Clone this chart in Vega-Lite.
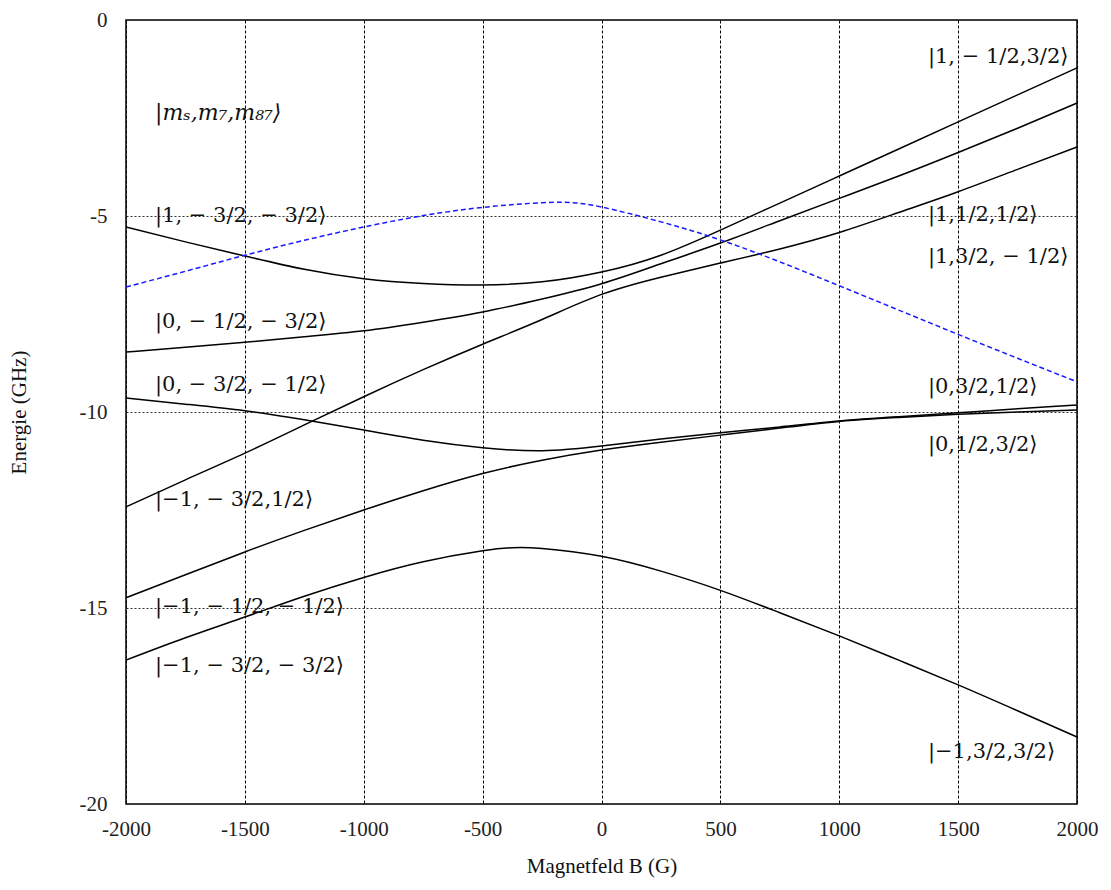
{
  "$schema": "https://vega.github.io/schema/vega-lite/v6.json",
  "width": 951,
  "height": 784,
  "autosize": {"type": "none"},
  "padding": {"left": 126, "top": 20, "right": 34, "bottom": 86},
  "background": "white",
  "config": {
    "view": {"stroke": "black", "strokeWidth": 1.5},
    "font": "Liberation Serif",
    "axis": {
      "domain": false,
      "ticks": false,
      "grid": true,
      "gridColor": "black",
      "gridWidth": 1,
      "labelFont": "Liberation Serif",
      "labelFontSize": 21,
      "labelColor": "#222",
      "labelFlush": false,
      "titleFont": "Liberation Serif",
      "titleFontSize": 21,
      "titleFontWeight": "normal",
      "titleColor": "#111",
      "labelExpr": "'' + datum.value"
    }
  },
  "datasets": {
    "levels": [
      {"level": "A", "B": -2000, "E": -5.28}, {"level": "A", "B": -1750, "E": -5.66}, {"level": "A", "B": -1500, "E": -6.02}, {"level": "A", "B": -1250, "E": -6.36}, {"level": "A", "B": -1000, "E": -6.6}, {"level": "A", "B": -750, "E": -6.72}, {"level": "A", "B": -500, "E": -6.76}, {"level": "A", "B": -250, "E": -6.68}, {"level": "A", "B": 0, "E": -6.43}, {"level": "A", "B": 250, "E": -6.0}, {"level": "A", "B": 500, "E": -5.36}, {"level": "A", "B": 750, "E": -4.67}, {"level": "A", "B": 1000, "E": -3.98}, {"level": "A", "B": 1250, "E": -3.29}, {"level": "A", "B": 1500, "E": -2.6}, {"level": "A", "B": 1750, "E": -1.91}, {"level": "A", "B": 2000, "E": -1.22},
      {"level": "B", "B": -2000, "E": -8.47}, {"level": "B", "B": -1750, "E": -8.35}, {"level": "B", "B": -1500, "E": -8.22}, {"level": "B", "B": -1250, "E": -8.08}, {"level": "B", "B": -1000, "E": -7.93}, {"level": "B", "B": -750, "E": -7.71}, {"level": "B", "B": -500, "E": -7.45}, {"level": "B", "B": -250, "E": -7.12}, {"level": "B", "B": 0, "E": -6.73}, {"level": "B", "B": 250, "E": -6.22}, {"level": "B", "B": 500, "E": -5.69}, {"level": "B", "B": 750, "E": -5.12}, {"level": "B", "B": 1000, "E": -4.55}, {"level": "B", "B": 1250, "E": -3.98}, {"level": "B", "B": 1500, "E": -3.38}, {"level": "B", "B": 1750, "E": -2.76}, {"level": "B", "B": 2000, "E": -2.12},
      {"level": "C", "B": -2000, "E": -12.42}, {"level": "C", "B": -1750, "E": -11.73}, {"level": "C", "B": -1500, "E": -11.05}, {"level": "C", "B": -1250, "E": -10.33}, {"level": "C", "B": -1000, "E": -9.61}, {"level": "C", "B": -750, "E": -8.92}, {"level": "C", "B": -500, "E": -8.27}, {"level": "C", "B": -250, "E": -7.64}, {"level": "C", "B": 0, "E": -7.0}, {"level": "C", "B": 250, "E": -6.56}, {"level": "C", "B": 500, "E": -6.2}, {"level": "C", "B": 750, "E": -5.84}, {"level": "C", "B": 1000, "E": -5.42}, {"level": "C", "B": 1250, "E": -4.91}, {"level": "C", "B": 1500, "E": -4.38}, {"level": "C", "B": 1750, "E": -3.81}, {"level": "C", "B": 2000, "E": -3.24},
      {"level": "D", "B": -2000, "E": -9.64}, {"level": "D", "B": -1750, "E": -9.8}, {"level": "D", "B": -1500, "E": -9.97}, {"level": "D", "B": -1250, "E": -10.2}, {"level": "D", "B": -1000, "E": -10.46}, {"level": "D", "B": -750, "E": -10.72}, {"level": "D", "B": -500, "E": -10.91}, {"level": "D", "B": -250, "E": -10.99}, {"level": "D", "B": 0, "E": -10.87}, {"level": "D", "B": 250, "E": -10.69}, {"level": "D", "B": 500, "E": -10.53}, {"level": "D", "B": 750, "E": -10.38}, {"level": "D", "B": 1000, "E": -10.23}, {"level": "D", "B": 1250, "E": -10.12}, {"level": "D", "B": 1500, "E": -10.02}, {"level": "D", "B": 1750, "E": -9.92}, {"level": "D", "B": 2000, "E": -9.82},
      {"level": "E", "B": -2000, "E": -14.74}, {"level": "E", "B": -1750, "E": -14.15}, {"level": "E", "B": -1500, "E": -13.57}, {"level": "E", "B": -1250, "E": -13.02}, {"level": "E", "B": -1000, "E": -12.5}, {"level": "E", "B": -750, "E": -12.01}, {"level": "E", "B": -500, "E": -11.57}, {"level": "E", "B": -250, "E": -11.23}, {"level": "E", "B": 0, "E": -10.97}, {"level": "E", "B": 250, "E": -10.77}, {"level": "E", "B": 500, "E": -10.59}, {"level": "E", "B": 750, "E": -10.41}, {"level": "E", "B": 1000, "E": -10.24}, {"level": "E", "B": 1250, "E": -10.14}, {"level": "E", "B": 1500, "E": -10.06}, {"level": "E", "B": 1750, "E": -10.0}, {"level": "E", "B": 2000, "E": -9.95},
      {"level": "F", "B": -2000, "E": -16.33}, {"level": "F", "B": -1750, "E": -15.76}, {"level": "F", "B": -1500, "E": -15.23}, {"level": "F", "B": -1250, "E": -14.7}, {"level": "F", "B": -1000, "E": -14.22}, {"level": "F", "B": -750, "E": -13.82}, {"level": "F", "B": -500, "E": -13.54}, {"level": "F", "B": -375, "E": -13.46}, {"level": "F", "B": -250, "E": -13.48}, {"level": "F", "B": 0, "E": -13.68}, {"level": "F", "B": 250, "E": -14.06}, {"level": "F", "B": 500, "E": -14.55}, {"level": "F", "B": 750, "E": -15.12}, {"level": "F", "B": 1000, "E": -15.71}, {"level": "F", "B": 1250, "E": -16.33}, {"level": "F", "B": 1500, "E": -16.96}, {"level": "F", "B": 1750, "E": -17.62}, {"level": "F", "B": 2000, "E": -18.29}
    ],
    "trap": [
      {"B": -2000, "E": -6.81}, {"B": -1750, "E": -6.41}, {"B": -1500, "E": -6.0}, {"B": -1250, "E": -5.62}, {"B": -1000, "E": -5.28}, {"B": -750, "E": -4.99}, {"B": -500, "E": -4.78}, {"B": -250, "E": -4.66}, {"B": -125, "E": -4.66}, {"B": 0, "E": -4.77}, {"B": 250, "E": -5.15}, {"B": 500, "E": -5.61}, {"B": 750, "E": -6.17}, {"B": 1000, "E": -6.78}, {"B": 1250, "E": -7.4}, {"B": 1500, "E": -8.02}, {"B": 1750, "E": -8.63}, {"B": 2000, "E": -9.23}
    ],
    "kets": [
      {"B": -1878, "E": -5.0, "ket": "|1, − 3/2, − 3/2⟩"},
      {"B": -1878, "E": -7.7, "ket": "|0, − 1/2, − 3/2⟩"},
      {"B": -1878, "E": -9.31, "ket": "|0, − 3/2, − 1/2⟩"},
      {"B": -1878, "E": -12.24, "ket": "|−1, − 3/2,1/2⟩"},
      {"B": -1878, "E": -14.97, "ket": "|−1, − 1/2, − 1/2⟩"},
      {"B": -1878, "E": -16.48, "ket": "|−1, − 3/2, − 3/2⟩"},
      {"B": 1373, "E": -0.94, "ket": "|1, − 1/2,3/2⟩"},
      {"B": 1373, "E": -4.97, "ket": "|1,1/2,1/2⟩"},
      {"B": 1373, "E": -6.04, "ket": "|1,3/2, − 1/2⟩"},
      {"B": 1373, "E": -9.36, "ket": "|0,3/2,1/2⟩"},
      {"B": 1373, "E": -10.84, "ket": "|0,1/2,3/2⟩"},
      {"B": 1373, "E": -18.67, "ket": "|−1,3/2,3/2⟩"}
    ],
    "header": [
      {"B": -1878, "E": -2.37, "ket": "|mₛ,m₇,m₈₇⟩"}
    ]
  },
  "encoding": {
    "x": {
      "field": "B",
      "type": "quantitative",
      "scale": {"domain": [-2000, 2000], "nice": false, "zero": false},
      "axis": {
        "values": [-2000, -1500, -1000, -500, 0, 500, 1000, 1500, 2000],
        "gridDash": [3, 2],
        "labelPadding": 14,
        "title": "Magnetfeld B (G)",
        "titlePadding": 16
      }
    },
    "y": {
      "field": "E",
      "type": "quantitative",
      "scale": {"domain": [-20, 0], "nice": false, "zero": false},
      "axis": {
        "values": [-20, -15, -10, -5, 0],
        "gridDash": [2, 2],
        "gridColor": "#333",
        "labelPadding": 19,
        "title": "Energie (GHz)",
        "titlePadding": 50
      }
    }
  },
  "layer": [
    {
      "data": {"name": "levels"},
      "mark": {"type": "line", "color": "black", "strokeWidth": 1.5, "interpolate": "natural"},
      "encoding": {"detail": {"field": "level", "type": "nominal"}}
    },
    {
      "data": {"name": "trap"},
      "mark": {"type": "line", "color": "#1a1aff", "strokeWidth": 1.5, "strokeDash": [5, 3], "interpolate": "natural"}
    },
    {
      "data": {"name": "kets"},
      "mark": {"type": "text", "align": "left", "baseline": "middle", "font": "DejaVu Serif", "fontSize": 21, "color": "#111"},
      "encoding": {"text": {"field": "ket", "type": "nominal"}}
    },
    {
      "data": {"name": "header"},
      "mark": {"type": "text", "align": "left", "baseline": "middle", "font": "DejaVu Serif", "fontStyle": "italic", "fontSize": 22, "color": "#111"},
      "encoding": {"text": {"field": "ket", "type": "nominal"}}
    }
  ]
}
